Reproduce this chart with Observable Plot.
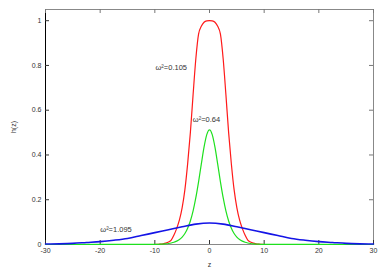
<!DOCTYPE html>
<html><head><meta charset="utf-8">
<script src="https://cdn.jsdelivr.net/npm/d3@7"></script>
<script src="https://cdn.jsdelivr.net/npm/@observablehq/plot@0.6"></script>
<style>body{margin:0;background:#fff}</style>
</head><body><div id="chart"></div>
<script>
const zNarrow = [-30, -10, -9.5, -9, -8.5, -8, -7.5, -7, -6.5, -6, -5.5, -5, -4.5, -4, -3.5, -3, -2.5, -2, -1.5, -1, -0.5, 0,
  0.5, 1, 1.5, 2, 2.5, 3, 3.5, 4, 4.5, 5, 5.5, 6, 6.5, 7, 7.5, 8, 8.5, 9, 9.5, 10, 30];
const hRed = [0, 0, 0.0007, 0.0015, 0.003, 0.006, 0.011, 0.02, 0.042, 0.072, 0.11, 0.165, 0.245, 0.36, 0.5, 0.67, 0.83, 0.94, 0.975, 0.993, 0.999, 1.0,
  0.999, 0.993, 0.975, 0.94, 0.83, 0.67, 0.5, 0.36, 0.245, 0.165, 0.11, 0.072, 0.042, 0.02, 0.011, 0.006, 0.003, 0.0015, 0.0007, 0, 0];
const hGreen = [0, 0.0006, 0.0009, 0.0013, 0.002, 0.003, 0.0045, 0.0067, 0.01, 0.015, 0.022, 0.033, 0.049, 0.073, 0.105, 0.15, 0.209, 0.28, 0.359, 0.435, 0.491, 0.512,
  0.491, 0.435, 0.359, 0.28, 0.209, 0.15, 0.105, 0.073, 0.049, 0.033, 0.022, 0.015, 0.01, 0.0067, 0.0045, 0.003, 0.002, 0.0013, 0.0009, 0.0006, 0];
const zWide = [-30, -27.5, -25, -22.5, -20, -17.5, -15, -12.5, -10, -7.5, -5, -2.5, 0, 2.5, 5, 7.5, 10, 12.5, 15, 17.5, 20, 22.5, 25, 27.5, 30];
const hBlue = [0.002, 0.003, 0.005, 0.009, 0.013, 0.019, 0.027, 0.04, 0.053, 0.066, 0.079, 0.091, 0.096, 0.091, 0.079, 0.066, 0.053, 0.04, 0.027, 0.019, 0.013, 0.009, 0.005, 0.003, 0.002];
const xTicks = [-30, -20, -10, 0, 10, 20, 30];
const yTicks = [0, 0.2, 0.4, 0.6, 0.8, 1];
const labels = ["ω²=0.105", "ω²=0.64", "ω²=1.095"];
const labelZ = [-7.0, -0.55, -17.1];
const labelH = [0.79, 0.56, 0.068];

const W = 384, H = 269, mL = 45, mR = 11, mT = 9, mB = 25;
const pw = W - mL - mR, ph = H - mT - mB, tl = 4;
const red = zNarrow.map((z, i) => ({z, h: hRed[i]}));
const green = zNarrow.map((z, i) => ({z, h: hGreen[i]}));
const blue = zWide.map((z, i) => ({z, h: hBlue[i]}));
const ann = labels.map((t, i) => ({t, z: labelZ[i], h: labelH[i]}));

const chart = Plot.plot({
  width: W, height: H, marginLeft: mL, marginRight: mR, marginTop: mT, marginBottom: mB,
  style: {fontFamily: "Liberation Sans, Arial, sans-serif", fontSize: "7px", color: "#333", background: "#fff"},
  x: {domain: [-30, 30]},
  y: {domain: [0, 1.05]},
  marks: [
    Plot.frame({stroke: "#888"}),
    Plot.ruleX([-30], {stroke: "#000"}),
    Plot.ruleX(xTicks, {stroke: "#333", insetTop: ph - tl}),
    Plot.ruleX(xTicks, {stroke: "#777", insetBottom: ph - tl}),
    Plot.ruleY(yTicks, {stroke: "#333", insetRight: pw - tl}),
    Plot.ruleY(yTicks, {stroke: "#777", insetLeft: pw - tl}),
    Plot.axisX({ticks: xTicks, tickSize: 0, tickPadding: 4, tickFormat: d => String(d), label: "z", labelAnchor: "center", labelArrow: "none", labelOffset: 22}),
    Plot.axisY({ticks: yTicks, tickSize: 0, tickPadding: 4, tickFormat: d => String(d), label: "h(z)", labelAnchor: "center", labelArrow: "none", labelOffset: 34}),
    Plot.line(red, {x: "z", y: "h", stroke: "#ff1a1a", strokeWidth: 1.2, curve: "monotone-x"}),
    Plot.line(green, {x: "z", y: "h", stroke: "#1ee01e", strokeWidth: 1.2, curve: "monotone-x"}),
    Plot.line(blue, {x: "z", y: "h", stroke: "#1414e6", strokeWidth: 1.6, curve: "monotone-x"}),
    Plot.text(ann, {x: "z", y: "h", text: "t", fill: "#333", fontSize: 7.5})
  ]
});
document.getElementById("chart").appendChild(chart);
</script>
</body></html>
